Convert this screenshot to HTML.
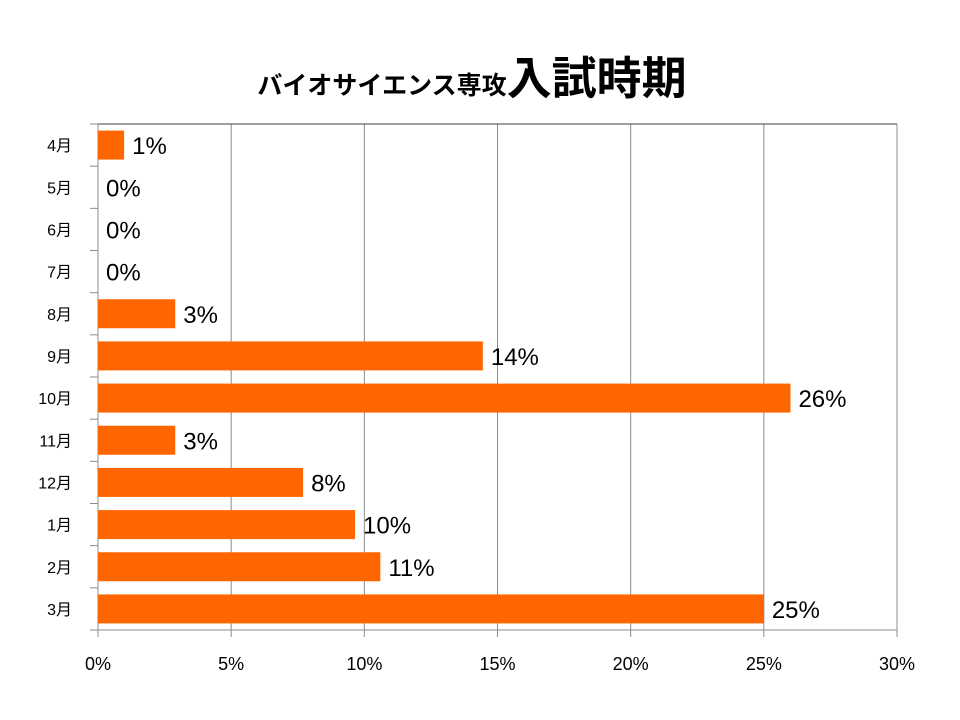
<!DOCTYPE html>
<html><head><meta charset="utf-8"><style>
html,body{margin:0;padding:0;background:#fff;width:960px;height:720px;overflow:hidden}
svg text{font-family:"Liberation Sans","Noto Sans CJK JP",sans-serif}
</style></head><body>
<svg id="chart" width="960" height="720" xmlns="http://www.w3.org/2000/svg">
<text x="472" y="94" text-anchor="middle" font-weight="bold" fill="#000"><tspan font-size="25">バイオサイエンス専攻</tspan><tspan font-size="45">入試時期</tspan></text>
<g id="grid"></g><g id="bars"></g><g id="labels"></g>
</svg>
<script>
const categories=["4月","5月","6月","7月","8月","9月","10月","11月","12月","1月","2月","3月"];
const values=[0.98,0,0,0,2.9,14.45,26.0,2.9,7.7,9.65,10.6,25.0];
const valueLabels=["1%","0%","0%","0%","3%","14%","26%","3%","8%","10%","11%","25%"];
const xTicks=[0,5,10,15,20,25,30];
const xTickLabels=["0%","5%","10%","15%","20%","25%","30%"];
const NS="http://www.w3.org/2000/svg";
const L=98,R=897,T=124,B=630;
const x=v=>L+(v/30)*(R-L);
const rowH=(B-T)/categories.length;
const y=i=>T+i*rowH;
function mk(tag,attrs,parent,text){const e=document.createElementNS(NS,tag);for(const k in attrs)e.setAttribute(k,attrs[k]);if(text!==undefined)e.textContent=text;parent.appendChild(e);return e;}
const grid=document.getElementById('grid'),bars=document.getElementById('bars'),labels=document.getElementById('labels');
xTicks.forEach((t,i)=>{
  const ln=mk('line',{x1:x(t),x2:x(t),y1:T,y2:B+7,stroke:'#8c8c8c','stroke-width':1},grid);
  
  
  const tx=mk('text',{x:x(t),y:670,'text-anchor':'middle','font-size':18,fill:'#000'},labels,xTickLabels[i]);
  
  
});
const plotTop=mk('line',{x1:L,x2:R,y1:T,y2:T,stroke:'#404040','stroke-width':1},grid);


const bot=mk('line',{x1:L,x2:R,y1:B,y2:B,stroke:'#8c8c8c','stroke-width':1},grid);


for(let i=0;i<=categories.length;i++){
  const tk=mk('line',{x1:L-8,x2:L,y1:y(i),y2:y(i),stroke:'#8c8c8c','stroke-width':1},grid);
  
  
}
categories.forEach((c,i)=>{
  const cy=y(i)+rowH/2;
  const r=mk('rect',{x:L,y:cy-14.5,width:Math.max(0,x(values[i])-L),height:29,fill:'#ff6600'},bars);
  
  
  const yl=mk('text',{x:72,y:cy+6,'text-anchor':'end','font-size':16,fill:'#000'},labels,c);
  
  
  const vl=mk('text',{x:x(values[i])+8,y:cy+9,'font-size':24,fill:'#000'},labels,valueLabels[i]);
  
  
});
const axl=mk('line',{x1:L,x2:L,y1:T,y2:B+7,stroke:'#8c8c8c','stroke-width':1},grid);


</script>
</body></html>
